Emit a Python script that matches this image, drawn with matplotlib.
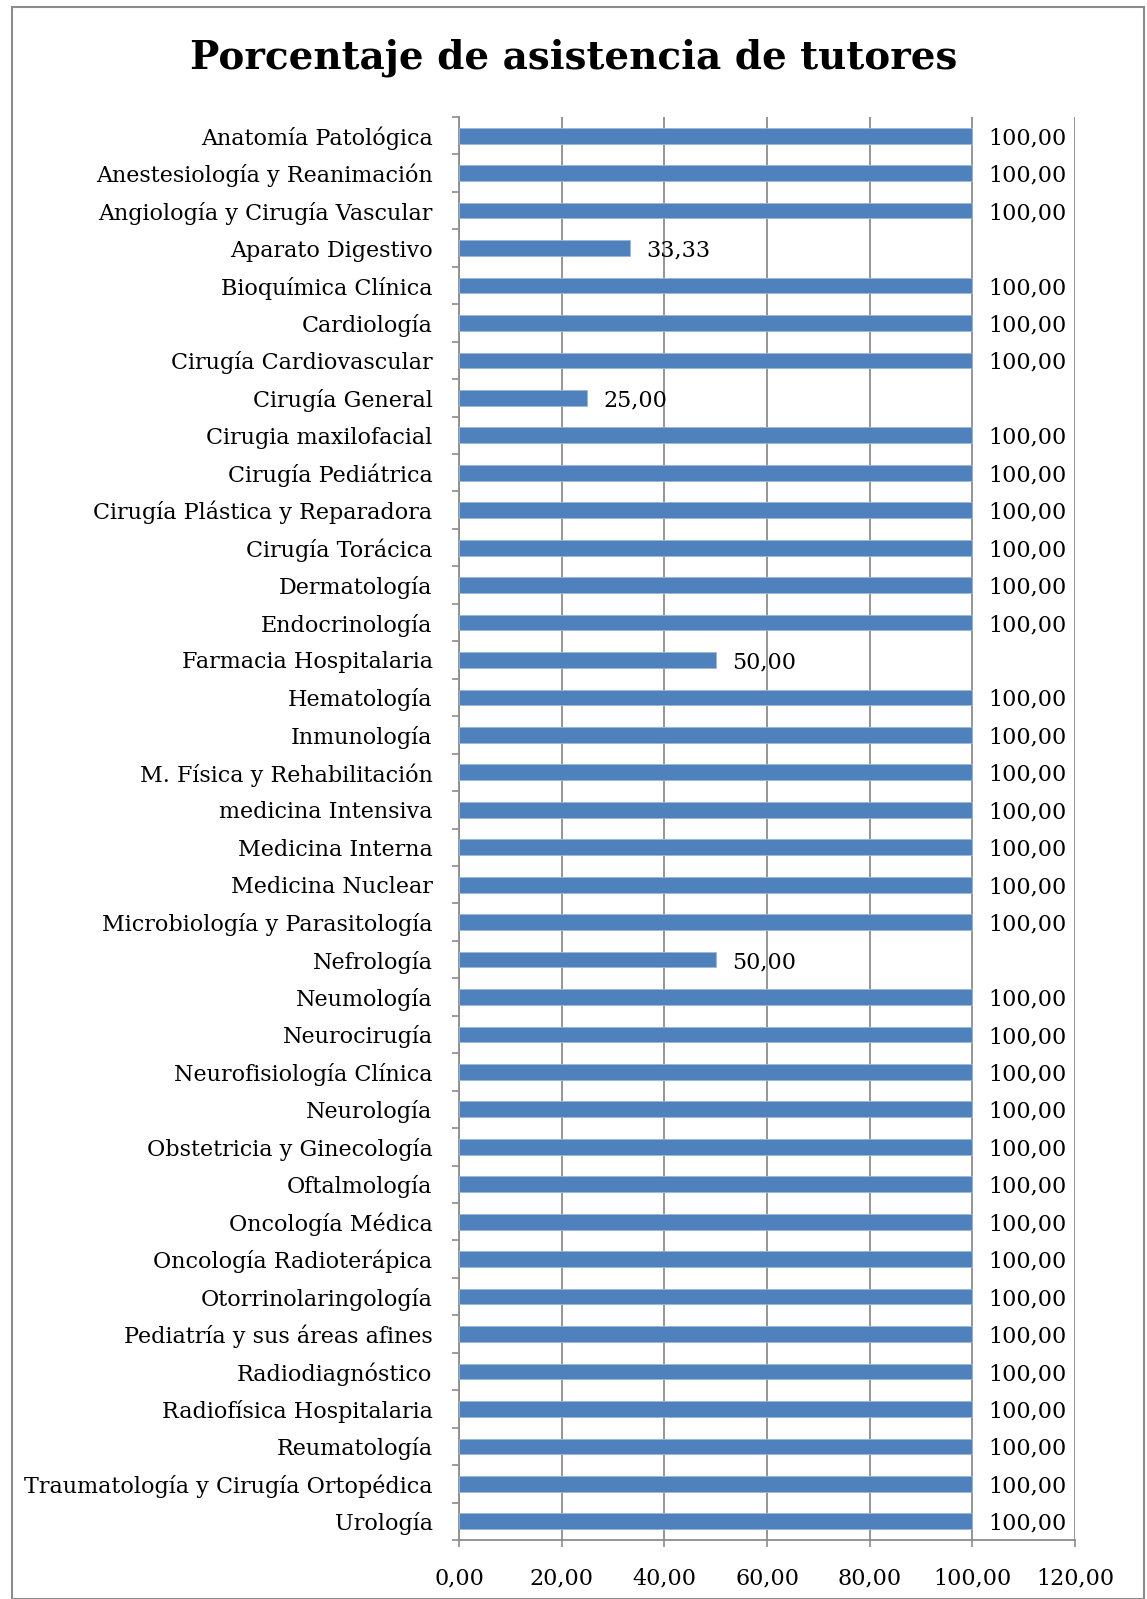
import matplotlib
matplotlib.use("Agg")
import matplotlib.pyplot as plt
from matplotlib.patches import Rectangle
import numpy as np

categories = [
    "Anatomía Patológica", "Anestesiología y Reanimación", "Angiología y Cirugía Vascular",
    "Aparato Digestivo", "Bioquímica Clínica", "Cardiología", "Cirugía Cardiovascular",
    "Cirugía General", "Cirugia maxilofacial", "Cirugía Pediátrica",
    "Cirugía Plástica y Reparadora", "Cirugía Torácica", "Dermatología", "Endocrinología",
    "Farmacia Hospitalaria", "Hematología", "Inmunología", "M. Física y Rehabilitación",
    "medicina Intensiva", "Medicina Interna", "Medicina Nuclear",
    "Microbiología y Parasitología", "Nefrología", "Neumología", "Neurocirugía",
    "Neurofisiología Clínica", "Neurología", "Obstetricia y Ginecología", "Oftalmología",
    "Oncología Médica", "Oncología Radioterápica", "Otorrinolaringología",
    "Pediatría y sus áreas afines", "Radiodiagnóstico", "Radiofísica Hospitalaria",
    "Reumatología", "Traumatología y Cirugía Ortopédica", "Urología",
]
values = [
    100, 100, 100, 33.33, 100, 100, 100, 25, 100, 100, 100, 100, 100, 100, 50, 100,
    100, 100, 100, 100, 100, 100, 50, 100, 100, 100, 100, 100, 100, 100, 100, 100,
    100, 100, 100, 100, 100, 100,
]
x_ticks = [0, 20, 40, 60, 80, 100, 120]
title = "Porcentaje de asistencia de tutores"

W, H = 1147, 1599
fig = plt.figure(figsize=(W / 100, H / 100), dpi=100)
fig.patch.set_facecolor("white")

# outer chart border
fig.add_artist(Rectangle((12 / W, 0), (1144 - 12) / W, 1 - 7 / H, transform=fig.transFigure,
                         fill=False, edgecolor="#8c8c8c", linewidth=1.5))

left, right = 459 / W, 1075 / W
top, bottom = 1 - 117 / H, 1 - 1540 / H
ax = fig.add_axes([left, bottom, right - left, top - bottom])

font = "DejaVu Serif"
fs = 16
y = np.arange(len(categories))
ax.barh(y, values, height=0.42, color="#4F81BD", edgecolor="#9bb7d9", linewidth=0.6, zorder=3)

for yi, v in zip(y, values):
    ax.text(v + 3.2, yi, f"{v:.2f}".replace(".", ","), va="center_baseline", ha="left",
            fontsize=fs, family=font, color="black", zorder=4)

ax.set_xlim(0, 120)
ax.set_ylim(len(categories) - 0.5, -0.5)
ax.set_xticks(x_ticks)
ax.set_xticklabels([f"{t:.2f}".replace(".", ",") for t in x_ticks], family=font, fontsize=fs)
ax.set_yticks(y)
ax.set_yticklabels(categories, family=font, fontsize=fs)
ax.set_yticks(np.arange(len(categories) + 1) - 0.5, minor=True)
ax.tick_params(axis="y", which="major", length=0, pad=19)
ax.tick_params(axis="y", which="minor", length=5, color="#8c8c8c", width=1.2)
ax.tick_params(axis="x", which="major", length=5, color="#8c8c8c", width=1.2, pad=15)

ax.grid(axis="x", color="#8c8c8c", linewidth=1.3, zorder=0)
for s in ["top", "right"]:
    ax.spines[s].set_visible(False)
for s in ["left", "bottom"]:
    ax.spines[s].set_color("#8c8c8c")
    ax.spines[s].set_linewidth(1.3)

fig.text(0.5, 1 - 58 / H, title, ha="center", va="center", fontsize=28,
         fontweight="bold", family=font)

fig.savefig("out.png", dpi=100)
